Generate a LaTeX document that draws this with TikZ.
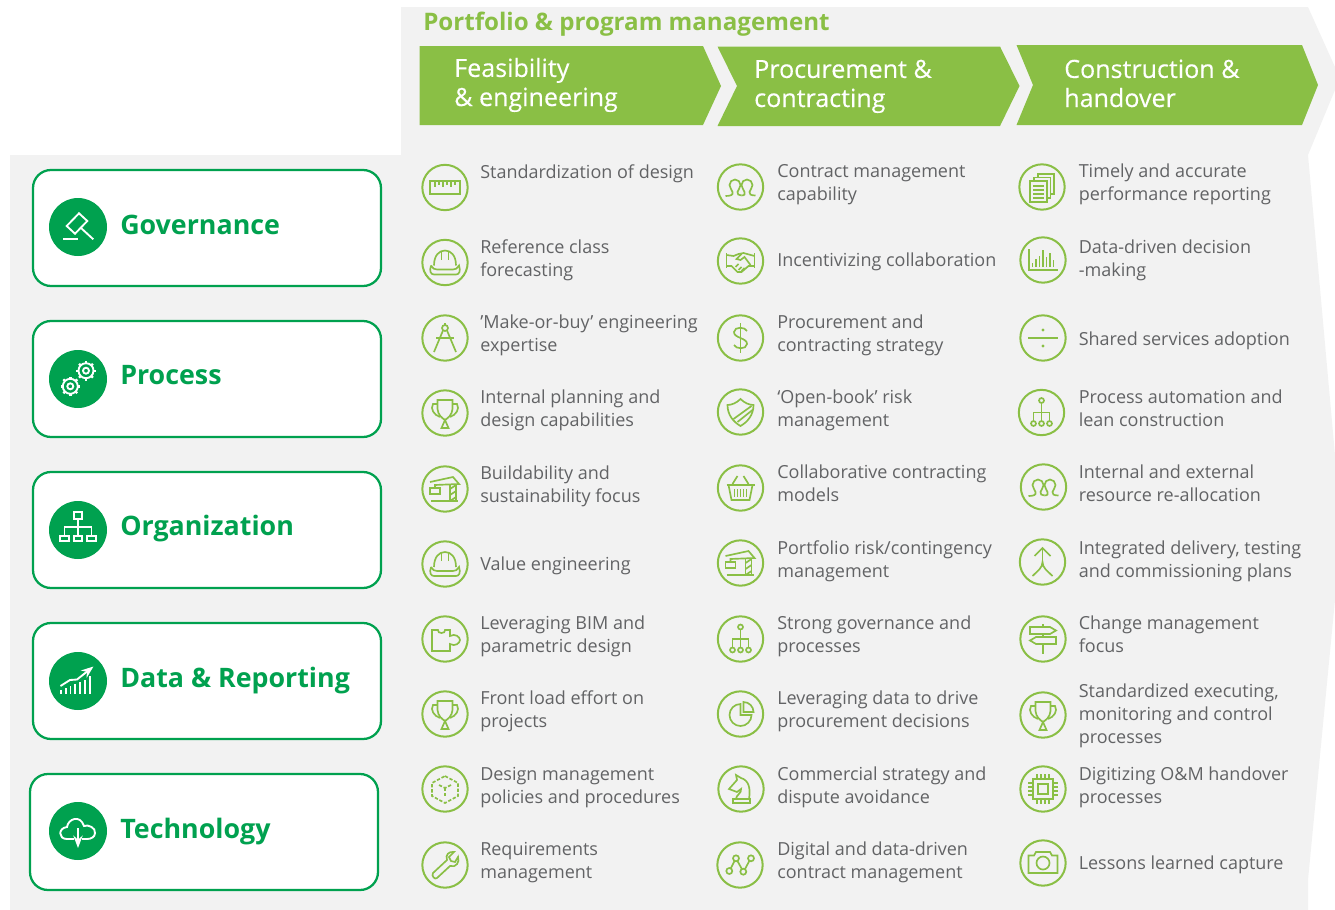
\documentclass[tikz,border=0pt]{standalone}
\usepackage{fontspec}
\setmainfont{Open Sans}
\usetikzlibrary{arrows.meta}
\usetikzlibrary{positioning}
\definecolor{leaf}{HTML}{8ABF45}
\definecolor{pine}{HTML}{00A14F}
\definecolor{panel}{HTML}{F2F2F2}
\definecolor{ink}{HTML}{626365}
\newcommand{\planitem}[7]{%
    \node[iconring] (#1i) at (#2,#3) {};
    \pic[iconpen] at (#1i) {#6};
    \node[itemtext] (#1t) at (#4,#5) {#7};
}
\tikzset
{   iconring/.style = {circle, draw = leaf, line width = 1.5pt, minimum size = 34pt, inner sep = 0pt}
,   iconpen/.style = {color = leaf, line width = 1.25pt}
,   whitepen/.style = {color = white, line width = 1.4pt}
,   itemtext/.style = {anchor = base west, inner sep = 0pt, align = left, text = ink, font = \fontsize{13.5}{16.9}\selectfont}
,   stagetext/.style = {anchor = base west, inner sep = 0pt, align = left, text = white, font = \addfontfeature{FakeBold=0.3}\fontsize{18.8}{21.8}\selectfont}
,   pillar/.style = {draw = pine, fill = white, line width = 1.7pt, rounded corners = 13.5pt, minimum width = 261pt, minimum height = 87pt, inner sep = 0pt}
,   badge/.style = {circle, fill = pine, minimum size = 43.5pt, inner sep = 0pt}
,   pillartext/.style = {anchor = base west, inner sep = 0pt, text = pine, font = \bfseries\fontsize{20.1}{24}\selectfont}
,   pics/ruler/.style = {code =
    {
        \draw (-15,-6.5) rectangle (15,6.5);
        \foreach\a/\b in {-10/-1,-6/-3,-2/-1,2/-3,6/-1,10/-3}
            \draw (\a,-6.5) -- (\a,\b);
    }}
,   pics/helmet/.style = {code =
    {
        \draw (-11,3) .. controls (-11,-7) and (-6,-12) .. (0,-12) .. controls (6,-12) and (11,-7) .. (11,3);
        \draw (-3.5,-3) -- (-3.5,-11);
        \draw (3.5,-3) -- (3.5,-11);
        \draw (-14,3) .. controls (-16,9) and (-14,12) .. (-11,12) -- (11,12) .. controls (14,12) and (16,9) .. (14,3) .. controls (13,6) and (10,7) .. (8,7) -- (-8,7) .. controls (-10,7) and (-13,6) .. (-14,3);
    }}
,   pics/dividers/.style = {code =
    {
        \draw (0,-10) circle (3);
        \draw (0,-15) -- (0,-13);
        \draw (-2,-7.5) -- (-11,14);
        \draw (2,-7.5) -- (11,14);
        \draw (-9,0) -- (9,0);
    }}
,   pics/trophy/.style = {code =
    {
        \draw (-7.5,-13) -- (7.5,-13) -- (7.5,-4) .. controls (7,2) and (3,5) .. (0,7) .. controls (-3,5) and (-7,2) .. (-7.5,-4) -- cycle;
        \draw (-7.5,-9) -- (-12,-9) .. controls (-15,-4) and (-11,2) .. (-5,4);
        \draw (7.5,-9) -- (12,-9) .. controls (15,-4) and (11,2) .. (5,4);
        \draw (0,7) -- (-3.5,15) -- (3.5,15) -- cycle;
    }}
,   pics/crane/.style = {code =
    {
        \draw (-14,12) -- (13,12);
        \draw (-15,-1) rectangle (-5,5);
        \draw (-15,-7) -- (8,-12) -- (14,-5) -- (-10,-4) -- (-10,-1);
        \draw (5,-5) -- (5,12);
        \draw (11,-5) -- (11,12);
        \foreach\a in {0,6,12}
            \draw (5,\a) -- (11,\a-4);
    }}
,   pics/loops/.style = {code =
    {
        \draw (-15,9) .. controls (-10,9) and (-7,8) .. (-8,5) .. controls (-9,2) and (-11,0) .. (-11,-2) .. controls (-11,-5) and (-8.5,-7.5) .. (-5.5,-7.5) .. controls (-2.5,-7.5) and (0,-5) .. (0,-2) .. controls (0,0) and (-2,2) .. (-3,5) .. controls (-3.5,7) and (-2,8.5) .. (1,8.5);
        \draw (1,8.5) .. controls (4,8.5) and (5,7) .. (4,5) .. controls (3,2) and (1,0) .. (1,-2) .. controls (1,-5) and (3.5,-7.5) .. (6.5,-7.5) .. controls (9.5,-7.5) and (12,-5) .. (12,-2) .. controls (12,0) and (10,2) .. (9,5) .. controls (8.5,7) and (10,8.5) .. (15,8.5);
    }}
,   pics/handshake/.style = {code =
    {
        \draw (-14,-8) -- (-14,7);
        \draw (14,-8) -- (14,7);
        \draw (-14,-6) -- (-7,-5) -- (-2,-7) -- (3,-8) -- (14,-5);
        \draw (-14,5) -- (-9,5) -- (-3,11) -- (1,11) -- (8,5) -- (14,5);
        \draw (1,-7) -- (-4,-2) -- (0,-1) -- (4,-4) -- (10,4);
        \draw (-5,6) -- (-2,3);
        \draw (-2,9) -- (1,6);
        \draw (1,10) -- (4,7);
    }}
,   pics/dollar/.style = {code =
    {
        \draw (0,-15) -- (0,15);
        \draw (6.5,-7) .. controls (5,-11) and (-6,-12) .. (-6.5,-6) .. controls (-7,0) and (7,0) .. (6.5,6) .. controls (6,12) and (-5,11) .. (-6.5,7);
    }}
,   pics/shield/.style = {code =
    {
        \draw (0,-13) .. controls (-4,-9) and (-9,-7) .. (-13,-7) .. controls (-13,3) and (-7,10) .. (0,14) .. controls (7,10) and (13,3) .. (13,-7) .. controls (9,-7) and (4,-9) .. (0,-13) -- cycle;
        \draw (11,-6) -- (-7,7);
        \draw (12,-2) -- (-3,10);
    }}
,   pics/basket/.style = {code =
    {
        \draw (-14,-3) -- (14,-3);
        \draw (-12,-3) -- (-9,12) -- (9,12) -- (12,-3);
        \draw (-8,-4) -- (-3,-12);
        \draw (8,-4) -- (3,-12);
        \foreach\a in {-6,-3,0,3,6}
            \draw (\a,1) -- (\a,9);
    }}
,   pics/branches/.style = {code =
    {
        \draw (0,-12) circle (2.5);
        \draw (0,-9.5) -- (0,8.5);
        \draw (-8,8.5) -- (-8,0) -- (8,0) -- (8,8.5);
        \foreach\a in {-8,0,8}
            \draw (\a,11) circle (2.5);
    }}
,   pics/puzzle/.style = {code =
    {
        \draw (-13,-9) -- (-7,-9) .. controls (-8,-5) and (1,-5) .. (0,-9) -- (5,-9) -- (5,-3) .. controls (10,-6) and (15,-2) .. (15,1) .. controls (15,4) and (10,8) .. (5,5) -- (5,12) -- (-13,12) -- cycle;
    }}
,   pics/cube/.style = {code =
    {
        \draw[dash pattern = on 2.5pt off 1.3pt] (0,-13) -- (13,-6) -- (13,7) -- (0,14) -- (-13,7) -- (-13,-6) -- cycle;
        \draw[dash pattern = on 2.5pt off 1.3pt] (-6,-4) -- (0,-1) -- (6,-4);
        \draw[dash pattern = on 2.5pt off 1.3pt] (0,-1) -- (0,9);
    }}
,   pics/wrench/.style = {code =
    {
        \draw (-12,8) -- (2,-5) .. controls (0,-10) and (4,-14) .. (9,-13) -- (4,-8) -- (6,-4) -- (10,-3) -- (13,-8) .. controls (15,-3) and (11,3) .. (5,1) -- (-8,13) .. controls (-10,15) and (-14,11) .. (-12,8) -- cycle;
    }}
,   pics/wedge/.style = {code =
    {
        \draw (0,1) -- (11,1) arc (0:270:11) -- cycle;
        \draw (3,-2) -- (3,-12) arc (-90:0:10) -- cycle;
    }}
,   pics/knight/.style = {code =
    {
        \draw (-8,10) rectangle (9,14);
        \draw (-5,10) .. controls (-5,6) and (1,4) .. (0,0) -- (-4,3) -- (-12,0) -- (-4,-9) -- (-5,-14) -- (0,-11) .. controls (7,-9) and (10,-2) .. (8,10);
    }}
,   pics/nodes/.style = {code =
    {
        \foreach\a/\b in {-10.7/6,-4/-6.7,3.3/6.7,11/-6.7}
            \draw (\a,\b) circle (3);
        \draw (-9.3,3.4) -- (-5.4,-4.1);
        \draw (-2.6,-4.1) -- (1.9,4.1);
        \draw (4.9,4.2) -- (9.4,-4.2);
    }}
,   pics/papers/.style = {code =
    {
        \draw (-12,-6) rectangle (5,15);
        \foreach\a in {-1,3,7,11}
            \draw (-9,\a) -- (2,\a);
        \draw (-8,-6) -- (-8,-9.5) -- (8.5,-9.5) -- (8.5,11) -- (5,11);
        \draw (-4,-9.5) -- (-4,-13) -- (12,-13) -- (12,7) -- (8.5,7);
    }}
,   pics/columns/.style = {code =
    {
        \draw (-14,-11) -- (-14,10) -- (15,10);
        \foreach\a/\b in {-10.5/3,-7/-1,-3.5/-4,0/-10,3.5/-3,7/-7,10.5/0}
            \draw (\a,7) -- (\a,\b);
    }}
,   pics/divide/.style = {code =
    {
        \draw (-15,0) -- (15,0);
        \fill (0,-8) circle (1.7);
        \fill (0,8) circle (1.7);
    }}
,   pics/merge/.style = {code =
    {
        \draw (-8,-6) -- (0,-14) -- (8,-6);
        \draw (0,-14) -- (0,0);
        \draw (-10,14) .. controls (-5,9) and (0,6) .. (0,0) .. controls (0,6) and (5,9) .. (10,14);
    }}
,   pics/signpost/.style = {code =
    {
        \draw (-13,-12) -- (7,-12) -- (13,-8.5) -- (7,-5) -- (-13,-5) -- cycle;
        \draw (13,-2) -- (-7,-2) -- (-13,1.5) -- (-7,5) -- (13,5) -- cycle;
        \draw (0,-15) -- (0,-12);
        \draw (0,-5) -- (0,-2);
        \draw (0,5) -- (0,15);
    }}
,   pics/chip/.style = {code =
    {
        \draw (-10,-10) rectangle (10,10);
        \draw (-5,-5) rectangle (5,5);
        \foreach\a in {-6,-2,2,6}
        {
            \draw (\a,-10) -- (\a,-15);
            \draw (\a,10) -- (\a,15);
            \draw (-10,\a) -- (-15,\a);
            \draw (10,\a) -- (15,\a);
        }
    }}
,   pics/camera/.style = {code =
    {
        \draw (-14.5,-7.5) -- (-9,-7.5) -- (-7,-11) -- (7,-11) -- (9,-7.5) -- (14.5,-7.5) -- (14.5,10) -- (-14.5,10) -- cycle;
        \draw (0,0) circle (6.5);
    }}
,   pics/gavel/.style = {code =
    {
        \draw (-11.3,-1) -- (1,-13.7) -- (9.3,-6) -- (-3,6.7) -- cycle;
        \draw (3,1) -- (15.3,12.3);
        \draw (-15,11.7) -- (0.3,11.7);
    }}
,   pics/gears/.style = {code =
    {
        \foreach\p/\q in {8/-8.3,-7.7/7.3}
        {
            \draw (\p,\q) circle (7.5);
            \draw (\p,\q) circle (3);
            \foreach\a in {0,45,...,315}
                \draw[line width = 1.8pt] ([shift = {(\p,\q)}]\a:7.5) -- ([shift = {(\p,\q)}]\a:9.8);
        }
    }}
,   pics/orgchart/.style = {code =
    {
        \draw (-4.3,-17.6) rectangle (4.3,-11);
        \draw (0,-11) -- (0,6);
        \draw (-13.5,6) -- (-13.5,-2.7) -- (13.5,-2.7) -- (13.5,6);
        \foreach\a in {-13.5,0,13.5}
            \draw (\a-4.3,6) rectangle (\a+4.3,11.3);
    }}
,   pics/growth/.style = {code =
    {
        \foreach\a/\b in {-16.7/9,-12/7,-7.5/5,-2.7/3,2/1,6.7/-1,12/-5}
            \draw (\a,13) -- (\a,\b);
        \draw[->] (-17.5,5) -- (-8,-1) -- (-1,-1.5) -- (15.5,-14.5);
    }}
,   pics/cloud/.style = {code =
    {
        \draw (-4,8) -- (-11,8) .. controls (-20,8) and (-20,-3) .. (-11,-4) .. controls (-10,-12) and (2,-17) .. (6,-5) .. controls (10,-7) and (18,-3) .. (17,2) .. controls (17,6) and (13,8) .. (9,8) -- (4,8);
        \draw[->] (0,-3) -- (0,17);
    }}
}

\begin{document}
\begin{tikzpicture}
    [   x = 0.75pt
    ,   y = -0.75pt
    ,   > = Stealth
    ]
    \useasboundingbox (0,0) rectangle (1335,910);
    \fill[panel] (401,7) -- (1308,7) -- (1335,67) -- (1335,90) -- (1308,155) -- (1335,455) -- (1335,600) -- (1308,880) -- (1308,910) -- (10,910) -- (10,155) -- (401,155) -- cycle;

    \node[anchor = base west, inner sep = 0pt, text = leaf, font = \bfseries\fontsize{18.1}{22}\selectfont] (title) at (423,31) {Portfolio \& program management};

    \fill[leaf] (419.5,46) -- (703,46) -- (721,86) -- (703,125) -- (419.5,125) -- cycle;
    \fill[leaf] (717.5,46.5) -- (1000,46.5) -- (1019.5,86) -- (1000,126) -- (717.5,126) -- (737,86) -- cycle;
    \fill[leaf] (1016.5,45) -- (1302,45) -- (1318,85) -- (1302,125) -- (1016.5,125) -- (1033,85) -- cycle;
    \foreach\n/\x/\y/\s in {feas/454/106/{Feasibility\\\& engineering},proc/754/107/{Procurement \&\\contracting},cons/1064/107/{Construction \&\\handover}}
    {
        \node[stagetext] (\n) at (\x,\y) {\s};
    }

    \foreach\n/\bx/\by/\cy/\ty/\ic/\s in
    {   gov/207/228/227/234/gavel/Governance
    ,   pro/207/379/379/384/gears/Process
    ,   org/207/530/530/535/orgchart/Organization
    ,   dat/207/681/681/687/growth/{Data \& Reporting}
    ,   tec/204/832/831/838/cloud/Technology
    }
    {
        \node[pillar] (\n) at (\bx,\by) {};
        \node[badge] (\n b) at (78,\cy) {};
        \pic[whitepen] at (\n b) {\ic};
        \node[pillartext] (\n t) at (120,\ty) {\s};
    }

    \planitem{a1}{445}{187.5}{480}{178}{ruler}{Standardization of design}
    \planitem{a2}{445}{262.5}{480}{276}{helmet}{Reference class\\forecasting}
    \planitem{a3}{445}{338}{480}{351}{dividers}{’Make-or-buy’ engineering\\expertise}
    \planitem{a4}{445}{413}{480}{426}{trophy}{Internal planning and\\design capabilities}
    \planitem{a5}{445}{489}{480}{502}{crane}{Buildability and\\sustainability focus}
    \planitem{a6}{445}{564}{480}{570}{helmet}{Value engineering}
    \planitem{a7}{445}{639}{480}{652}{puzzle}{Leveraging BIM and\\parametric design}
    \planitem{a8}{445}{714}{480}{727}{trophy}{Front load effort on\\projects}
    \planitem{a9}{445}{789}{480}{803}{cube}{Design management\\policies and procedures}
    \planitem{a10}{445}{865}{480}{878}{wrench}{Requirements\\management}
    \planitem{b1}{740.5}{187}{777}{200}{loops}{Contract management\\capability}
    \planitem{b2}{740.5}{261}{777}{266}{handshake}{Incentivizing collaboration}
    \planitem{b3}{740.5}{338}{777}{351}{dollar}{Procurement and\\contracting strategy}
    \planitem{b4}{740.5}{412}{777}{426}{shield}{‘Open-book’ risk\\management}
    \planitem{b5}{740.5}{488}{777}{501}{basket}{Collaborative contracting\\models}
    \planitem{b6}{740.5}{563}{777}{577}{crane}{Portfolio risk/contingency\\management}
    \planitem{b7}{740.5}{639}{777}{652}{branches}{Strong governance and\\processes}
    \planitem{b8}{740.5}{714}{777}{727}{wedge}{Leveraging data to drive\\procurement decisions}
    \planitem{b9}{741}{789}{777}{803}{knight}{Commercial strategy and\\dispute avoidance}
    \planitem{b10}{740}{865}{777}{878}{nodes}{Digital and data-driven\\contract management}
    \planitem{c1}{1042}{187}{1078.5}{200}{papers}{Timely and accurate\\performance reporting}
    \planitem{c2}{1043}{260}{1078.5}{276}{columns}{Data-driven decision\\-making}
    \planitem{c3}{1043}{338}{1078.5}{345}{divide}{Shared services adoption}
    \planitem{c4}{1041.5}{412.5}{1078.5}{426}{branches}{Process automation and\\lean construction}
    \planitem{c5}{1043.5}{487}{1078.5}{501}{loops}{Internal and external\\resource re-allocation}
    \planitem{c6}{1042.5}{562}{1078.5}{577}{merge}{Integrated delivery, testing\\and commissioning plans}
    \planitem{c7}{1043}{639}{1078.5}{652}{signpost}{Change management\\focus}
    \planitem{c8}{1043}{715}{1078.5}{743}{trophy}{Standardized executing,\\monitoring and control\\processes}
    \planitem{c9}{1043}{789}{1078.5}{803}{chip}{Digitizing O\&M handover\\processes}
    \planitem{c10}{1043}{863}{1078.5}{869}{camera}{Lessons learned capture}
\end{tikzpicture}
\end{document}
